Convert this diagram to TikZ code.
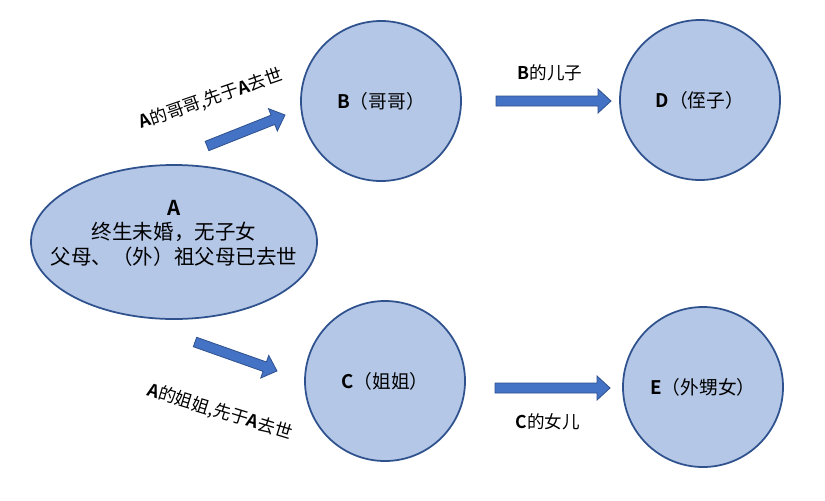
\documentclass[tikz,border=0pt]{standalone}
\usepackage{fontspec}
\setmainfont{Noto Sans CJK SC}[BoldFont={* Bold}]
\usetikzlibrary{shapes.geometric,calc}
\definecolor{nodefill}{HTML}{B4C7E7}
\definecolor{nodeline}{HTML}{2F528F}
\definecolor{arrowfill}{HTML}{4472C4}
\tikzset{
  person/.style={circle,draw=nodeline,fill=nodefill,line width=1.5pt,
    minimum size=4.8cm,inner sep=0pt,font=\fontsize{16}{19}\selectfont},
  relation/.style={font=\fontsize{15}{18}\selectfont,inner sep=0pt},
  blockarrow/.style={fill=arrowfill,draw=nodeline,line width=0.7pt,line join=miter}
}
\newcommand{\blockarrow}[2]{%
  \filldraw[blockarrow]
    ($(#1)!0.15cm!90:(#2)$) --
    ($($(#2)!0.39cm!(#1)$)!0.15cm!-90:(#1)$) --
    ($($(#2)!0.39cm!(#1)$)!0.36cm!-90:(#1)$) --
    (#2) --
    ($($(#2)!0.39cm!(#1)$)!0.36cm!90:(#1)$) --
    ($($(#2)!0.39cm!(#1)$)!0.15cm!90:(#1)$) --
    ($(#1)!0.15cm!-90:(#2)$) -- cycle;}
\begin{document}
\begin{tikzpicture}[x=0.03cm,y=-0.03cm]
  \fill[white] (0,0) rectangle (825,500);
  \useasboundingbox (0,0) rectangle (825,500);
  \node[ellipse,draw=nodeline,fill=nodefill,line width=1.5pt,
    minimum width=8.58cm,minimum height=4.62cm,inner sep=0pt] (A) at (174,242) {};
  \node[align=center,font=\fontsize{17.5}{21}\selectfont] (Atext) at (174,233)
    {\textbf{A}\\终生未婚，无子女\\父母、（外）祖父母已去世};
  \node[person] (B) at (381,101) {\textbf{B}（哥哥）};
  \node[person] (C) at (385,381) {\textbf{C}（姐姐）};
  \node[person] (D) at (700,100) {\textbf{D}（侄子）};
  \node[person] (E) at (703,387) {\textbf{E}（外甥女）};
  \coordinate (ab0) at (207,146);
  \coordinate (ab1) at (285,115);
  \coordinate (ac0) at (195,342);
  \coordinate (ac1) at (277,371);
  \coordinate (bd0) at (496,101);
  \coordinate (bd1) at (611,101);
  \coordinate (ce0) at (495,388);
  \coordinate (ce1) at (610,388);
  \blockarrow{ab0}{ab1}
  \blockarrow{ac0}{ac1}
  \blockarrow{bd0}{bd1}
  \blockarrow{ce0}{ce1}
  \node[relation,rotate=19] (ab) at (211,99) {\textbf{A}的哥哥,先于\textbf{A}去世};
  \node[relation,rotate=-17] (ac) at (220,412) {\textbf{A}的姐姐,先于\textbf{A}去世};
  \node[relation] (bd) at (550,73) {\textbf{B}的儿子};
  \node[relation] (ce) at (548,422) {\textbf{C}的女儿};
\end{tikzpicture}
\end{document}
